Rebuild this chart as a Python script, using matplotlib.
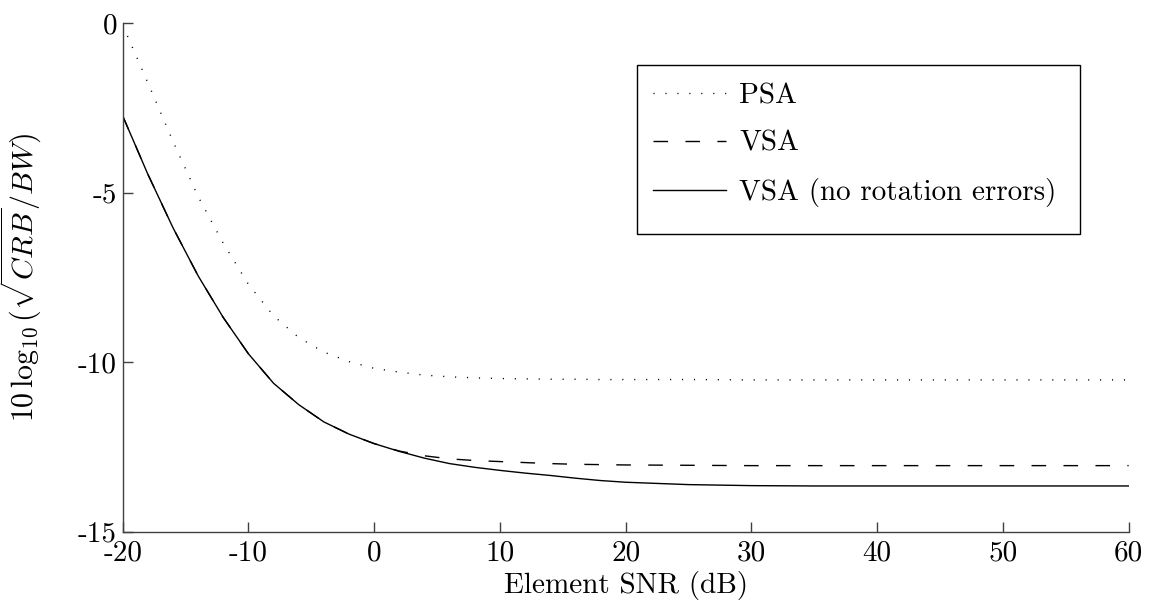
import matplotlib
matplotlib.use('Agg')
import matplotlib.pyplot as plt
from matplotlib.patches import Rectangle

plt.rcParams['font.family'] = 'cmr10'
plt.rcParams['mathtext.fontset'] = 'cm'
plt.rcParams['axes.unicode_minus'] = False
plt.rcParams['axes.formatter.use_mathtext'] = True
plt.rcParams['lines.scale_dashes'] = False

snr = [-20, -18, -16, -14, -12, -10, -8, -6, -4, -2, 0, 2, 4, 6, 8, 10,
       12, 14, 16, 18, 20, 25, 30, 35, 40, 45, 50, 55, 60]

psa = [-0.05, -1.75, -3.48, -5.11, -6.49, -7.70, -8.63, -9.27, -9.70, -9.98,
       -10.18, -10.29, -10.38, -10.43, -10.46, -10.48, -10.49, -10.50, -10.50,
       -10.51, -10.51, -10.51, -10.52, -10.52, -10.52, -10.52, -10.52, -10.52, -10.52]

vsa = [-2.73, -4.45, -6.03, -7.45, -8.68, -9.75, -10.62, -11.25, -11.76, -12.12,
       -12.40, -12.62, -12.76, -12.85, -12.90, -12.93, -12.96, -12.99, -13.01,
       -13.02, -13.03, -13.04, -13.05, -13.05, -13.05, -13.05, -13.05, -13.05, -13.05]

vsa_norot = [-2.73, -4.45, -6.03, -7.45, -8.68, -9.75, -10.62, -11.25, -11.76, -12.12,
             -12.40, -12.63, -12.83, -12.99, -13.10, -13.19, -13.27, -13.34, -13.42,
             -13.49, -13.54, -13.61, -13.64, -13.65, -13.65, -13.65, -13.65, -13.65, -13.65]

xticks = [-20, -10, 0, 10, 20, 30, 40, 50, 60]
yticks = [-15, -10, -5, 0]

fs = 21

fig = plt.figure(figsize=(11.54, 6.14), dpi=100)
ax = fig.add_axes([0.1063, 0.134, 0.8717, 0.828])

ax.plot(snr, psa, color='k', lw=1.0, linestyle=(0, (0.8, 7.8)), label='PSA')
ax.plot(snr, vsa, color='k', lw=1.0, linestyle=(0, (10.5, 12.5)), label='VSA')
ax.plot(snr, vsa_norot, color='k', lw=1.0, linestyle='-', label='VSA (no rotation errors)')

ax.set_xlim(-20, 60)
ax.set_ylim(-15, 0)
ax.set_xticks(xticks)
ax.set_xticklabels([str(t) for t in xticks])
ax.set_yticks(yticks)
ax.set_yticklabels([str(t) for t in yticks])

for side in ['top', 'right']:
    ax.spines[side].set_visible(False)
for side in ['left', 'bottom']:
    ax.spines[side].set_color('0.25')
    ax.spines[side].set_linewidth(1.0)

ax.tick_params(direction='in', length=7, width=1.0, color='0.25', labelsize=fs)
ax.tick_params(axis='x', pad=6)
ax.tick_params(axis='y', pad=4)

ax.set_xlabel('Element SNR (dB)', fontsize=fs, labelpad=3)
ax.set_ylabel(r'$10\,\log_{10}(\sqrt{CRB}/BW)$', fontsize=fs + 0.5)
ax.yaxis.set_label_coords(-0.078, 0.5)

# legend box drawn separately so the padding below the last row can be larger
box = Rectangle((0.5517, 0.6189), 0.3841, 0.2752, transform=fig.transFigure,
                facecolor='white', edgecolor='k', linewidth=1.0, zorder=3,
                clip_on=False)
ax.add_patch(box)

leg = ax.legend(loc='upper left', bbox_to_anchor=(0.5659, 0.8650),
                bbox_transform=fig.transFigure, fontsize=fs, frameon=False,
                borderaxespad=0, borderpad=0, handlelength=2.5,
                handletextpad=0.45, labelspacing=0.72)
leg.set_zorder(4)

fig.savefig('out.png', dpi=100)
